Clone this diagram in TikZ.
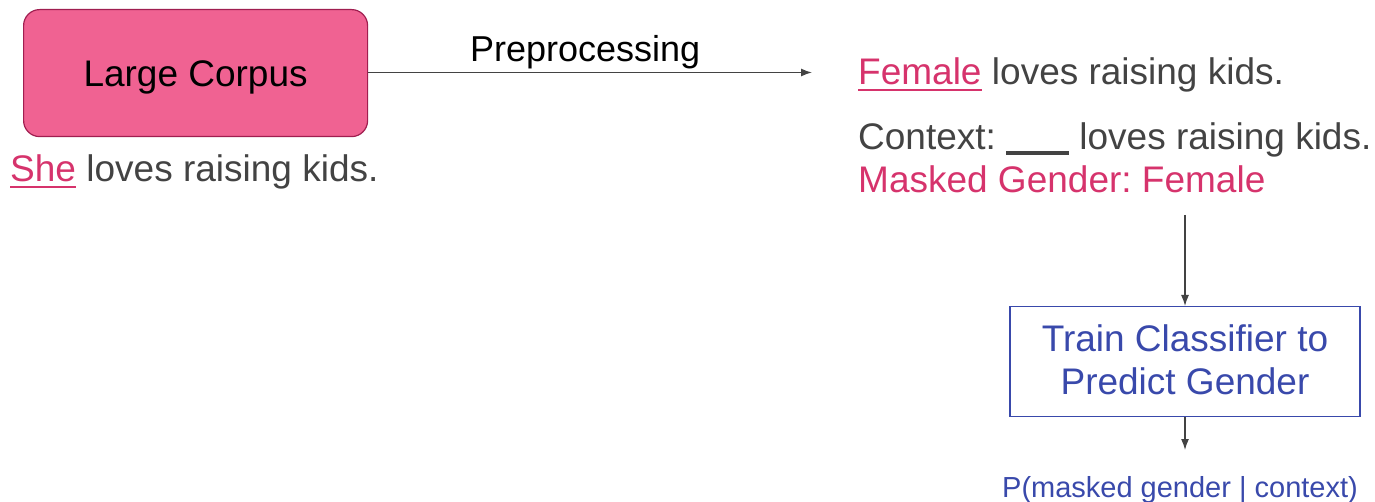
\documentclass[tikz,border=0pt]{standalone}
\usepackage{fontspec}
\setmainfont{Liberation Sans}
\usetikzlibrary{calc,arrows.meta}
\definecolor{boxpink}{RGB}{240,98,146}
\definecolor{boxedge}{RGB}{160,30,80}
\definecolor{pinktxt}{RGB}{214,51,108}
\definecolor{greytxt}{RGB}{67,67,67}
\definecolor{bluec}{RGB}{57,73,171}
\frenchspacing
\tikzset{
  big/.style={font=\fontsize{37}{42}\selectfont, inner sep=0pt},
  small/.style={font=\fontsize{29}{33}\selectfont, inner sep=0pt},
  conn/.style={draw=greytxt, line width=1.3pt, -{Latex[length=11pt,width=8pt]}},
  uline/.style={draw=pinktxt, line width=2.8pt},
}
\begin{document}
\begin{tikzpicture}[x=1pt,y=-1pt]
\useasboundingbox (0,0) rectangle (1375,502);
% Large Corpus box
\node[big, draw=boxedge, fill=boxpink, line width=1.2pt, rounded corners=16pt,
  minimum width=344pt, minimum height=127pt, anchor=north west] (corpus) at (23,9) {};
\node[big, anchor=base] (corpuslbl) at ($(corpus.center)+(0,13)$) {Large Corpus};
% She loves raising kids.
\node[big, text=pinktxt, anchor=base west] (she) at (10,182) {She};
\node[big, text=greytxt, anchor=base west] (shetail) at ($(she.base east)+(10,0)$) {loves raising kids.};
\draw[uline] ($(she.base west)+(0,5)$) -- ($(she.base east)+(0,5)$);
% right side
\coordinate (arrowend) at (812,72.5);
\draw[conn] (corpus.east |- arrowend) -- (arrowend)
  node[pos=0.5, font=\fontsize{36}{40}\selectfont, text=black, anchor=base, yshift=11pt, xshift=-5pt] (prep) {Preprocessing};
\node[big, text=pinktxt, anchor=base west] (female) at (858,85) {Female};
\node[big, text=greytxt, anchor=base west] (femtail) at ($(female.base east)+(10,0)$) {loves raising kids.};
\draw[uline] ($(female.base west)+(0,5)$) -- ($(female.base east)+(0,5)$);
\node[big, text=greytxt, anchor=base west] (ctx) at (858,150) {Context:};
\coordinate (blankA) at ($(ctx.base east)+(10,3)$);
\coordinate (blankB) at ($(blankA)+(63,0)$);
\draw[draw=greytxt, line width=4pt] (blankA) -- (blankB);
\node[big, text=greytxt, anchor=base west] (ctxtail) at ($(ctx.base east)+(83,0)$) {loves raising kids.};
\node[big, text=pinktxt, anchor=base west] (masked) at (858,193) {Masked Gender: Female};
% classifier
\node[draw=bluec, line width=1.3pt, minimum width=350pt, minimum height=110pt,
  anchor=north] (clf) at (1185,306) {};
\node[big, text=bluec, anchor=base] (clf1) at (1185,352) {Train Classifier to};
\node[big, text=bluec, anchor=base] (clf2) at (1185,394) {Predict Gender};
\coordinate (topstart) at (1185,215);
\draw[conn] (topstart) -- (clf.north);
\node[small, text=bluec, anchor=base] (prob) at (1180,497) {P(masked gender | context)};
\coordinate (probtop) at (1185,450);
\draw[conn] (clf.south) -- (probtop);
\end{tikzpicture}
\end{document}
